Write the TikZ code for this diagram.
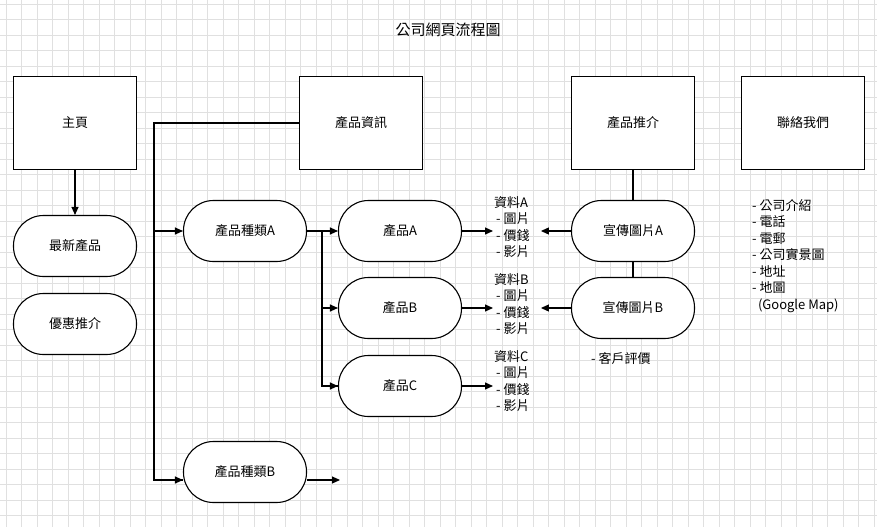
\documentclass[tikz,border=0pt]{standalone}
\usepackage{fontspec}
\setmainfont{Noto Sans CJK TC}
\usetikzlibrary{arrows.meta}
\begin{document}
\begin{tikzpicture}[
              x = 1pt, y = -1pt,
              font = \fontsize{13}{16.5}\selectfont,
              page/.style = {draw, line width = 1.1pt, minimum width = 123pt, minimum height = 93pt},
              pill/.style = {draw, line width = 1.1pt, rounded corners = 30pt, minimum width = 123pt, minimum height = 61pt},
              flow/.style = {-{Triangle[length = 8pt, width = 7pt]}, line width = 1.1pt},
              link/.style = {line width = 1.1pt},
              memo/.style = {align = left, anchor = north west, inner sep = 0pt}
            ]
            \useasboundingbox (0,0) rectangle (877,527);
            % grid
            \fill[white] (0,0) rectangle (877,527);
            \foreach \k in {0,...,56} \draw[black!12] (6+15.5*\k,0) -- (6+15.5*\k,527);
            \foreach \k in {0,...,34} \draw[black!12] (0,4+15.5*\k) -- (877,4+15.5*\k);
            % nodes
            \node (title) at (448, 30) {\fontsize{15}{18}\selectfont 公司網頁流程圖};
            \node[page, fill = white] (home)    at (75, 123)  {主頁};
            \node[page, fill = white] (info)    at (361, 123) {產品資訊};
            \node[page, fill = white] (promo)   at (633, 123) {產品推介};
            \node[page, fill = white] (contact) at (803, 123) {聯絡我們};
            \node[pill, fill = white] (new)     at (75, 246)  {最新產品};
            \node[pill, fill = white] (deal)    at (75, 324)  {優惠推介};
            \node[pill, fill = white] (kindA)   at (245, 231) {產品種類A};
            \node[pill, fill = white] (kindB)   at (245, 472) {產品種類B};
            \node[pill, fill = white] (prodA)   at (400, 231) {產品A};
            \node[pill, fill = white] (prodB)   at (400, 308) {產品B};
            \node[pill, fill = white] (prodC)   at (400, 386) {產品C};
            \node[pill, fill = white] (adA)     at (633, 231) {宣傳圖片A};
            \node[pill, fill = white] (adB)     at (633, 308) {宣傳圖片B};
            \node[memo] (dataA) at (493, 196) {\hspace*{1pt}資料A\\\ - 圖片\\\ - 價錢\\\ - 影片};
            \node[memo] (dataB) at (493, 273) {\hspace*{1pt}資料B\\\ - 圖片\\\ - 價錢\\\ - 影片};
            \node[memo] (dataC) at (493, 350) {\hspace*{1pt}資料C\\\ - 圖片\\\ - 價錢\\\ - 影片};
            \node[memo] (review) at (591, 352) {- 客戶評價};
            \node[memo] (items) at (752, 199) {- 公司介紹\\- 電話\\- 電郵\\- 公司實景圖\\- 地址\\- 地圖\\\ \ (Google Map)};
            \coordinate (trunk) at (154, 123);
            \coordinate (fork)  at (322, 231);
            \coordinate (open)  at (340, 480);
            % connectors
            \draw[flow] (home) -- (new);
            \draw[link] (info.west) -- (trunk) |- (kindB.west |- 0,480);
            \draw[flow] (trunk |- kindA.west) -- (kindA.west);
            \draw[flow] (trunk |- 0,480) -- (kindB.west |- 0,480);
            \draw[flow] (kindB.east |- 0,480) -- (open);
            \draw[flow] (kindA.east) -- (prodA.west);
            \draw[link] (fork) |- (prodC.west);
            \draw[flow] (fork |- prodB.west) -- (prodB.west);
            \draw[flow] (fork |- prodC.west) -- (prodC.west);
            \draw[flow] (prodA.east) -- (dataA.west |- prodA.east);
            \draw[flow] (prodB.east) -- (dataB.west |- prodB.east);
            \draw[flow] (prodC.east) -- (dataC.west |- prodC.east);
            \draw[flow] (adA.west) -- ++(-30, 0);
            \draw[flow] (adB.west) -- ++(-30, 0);
            \draw[link] (promo) -- (adA);
            \draw[link] (adA) -- (adB);
          \end{tikzpicture}
\end{document}
